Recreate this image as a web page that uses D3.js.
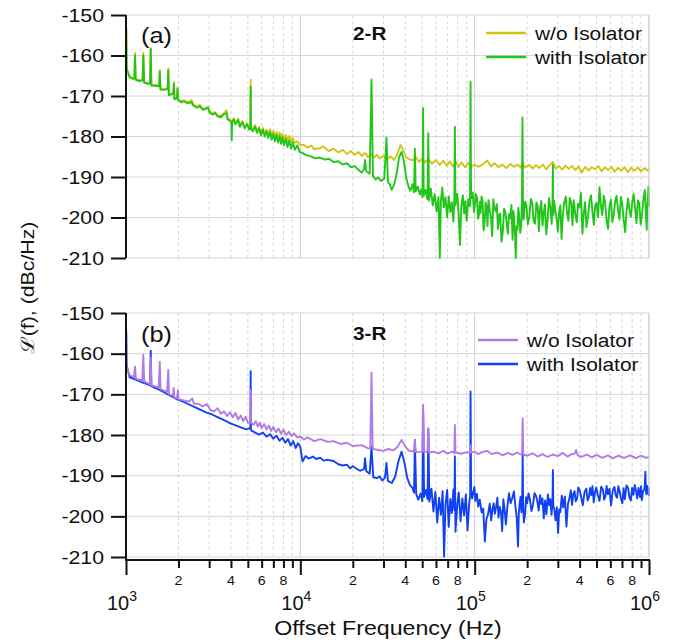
<!DOCTYPE html>
<html><head><meta charset="utf-8">
<script src="https://cdn.jsdelivr.net/npm/d3@7"></script>
<style>html,body{margin:0;padding:0;background:#fff;}svg{display:block;}</style>
</head><body>
<svg id="chart" width="688" height="643"></svg>
<script>
// ---------------- DATA ----------------
const yTicks = [-150,-160,-170,-180,-190,-200,-210];
const decadeTicks = [1e3,1e4,1e5,1e6];
const decadeExp = ["3","4","5","6"];
const minorLabels = [2,4,6,8];
const seriesNames = ["w/o Isolator","with Isolator"];
const panelTags = ["(a)","(b)"];
const panelTitles = ["2-R","3-R"];
const xTitle = "Offset Frequency (Hz)";
const yTitle = "\u2112(f), (dBc/Hz)";

// panel (a) 2-R, without isolator  [frequency Hz, dBc/Hz]
const topNoIso = [
[1000,-164.8],[1003,-153.5],[1009,-163.2],[1050,-165.2],[1100,-165.6],[1118,-165.4],[1126,-159.4],[1136,-165.8],[1190,-166.1],[1245,-166],[1257,-159.4],[1270,-166.5],[1330,-166.9],[1375,-166.7],[1386,-158.2],[1398,-167.2],[1470,-167.3],[1550,-167.4],[1562,-163.6],[1576,-168.2],[1650,-168.3],[1735,-168.1],[1748,-163.2],[1762,-169.6],[1830,-169.4],[1870,-169],[1882,-166.5],[1895,-170.6],[1960,-170.4],[1975,-167.8],[1990,-170.8],[2080,-171.4],[2150,-171],[2250,-171.6],[2380,-171],[2420,-172],[2550,-172.6],[2650,-172.2],[2750,-173.1],[2850,-173],[2960,-172.6],[3020,-173.9],[3150,-174.3],[3250,-174],[3350,-174.8],[3500,-175],[3600,-174.4],[3780,-173.5],[3820,-175.4],[3950,-175.9],[4040,-176.4],[4150,-175.5],[4250,-176.7],[4400,-175.6],[4500,-177.3],[4650,-176.2],[4800,-177.8],[4950,-176.7],[5100,-178],[5170,-177.6],[5190,-166],[5210,-177.8],[5350,-178.4],[5500,-177.2],[5650,-178.8],[5800,-177.6],[5950,-179.3],[6100,-177.9],[6250,-179.5],[6400,-178.3],[6550,-179.8],[6700,-178.2],[6850,-180.1],[7000,-178.6],[7150,-180.3],[7300,-178.8],[7450,-180.5],[7600,-179],[7750,-180.6],[7900,-179.3],[8050,-180.9],[8250,-179.6],[8450,-181.1],[8650,-179.9],[8850,-181.3],[9050,-180.4],[9300,-181.5],[9600,-181.2],[9900,-182],[10500,-182.1],[11000,-182.8],[11500,-182.2],[12000,-183.1],[13000,-182.9],[13500,-182.4],[14500,-183.6],[15500,-183],[16500,-183.9],[17500,-183.3],[18500,-184.3],[19500,-183.6],[20500,-184.5],[21500,-183.8],[22500,-184.8],[23500,-184.1],[24500,-185.1],[25500,-184.3],[26500,-185.2],[27500,-184.5],[28500,-185.4],[30000,-184.8],[31500,-185.6],[33000,-184.9],[34500,-185.8],[36000,-184.4],[37500,-182.1],[39000,-183.4],[40500,-185.2],[42000,-185.6],[44000,-185.9],[46000,-185.1],[48000,-186.3],[50000,-185.4],[52000,-186.5],[54000,-185.5],[57000,-186.7],[60000,-185.8],[63000,-187],[66000,-186],[69000,-187.2],[72000,-186.2],[75000,-187.4],[78000,-186.3],[81000,-187.5],[84000,-186.4],[88000,-187.6],[92000,-186.5],[96000,-187.4],[100000,-186.9],[105000,-187.5],[112000,-186.8],[118000,-185.9],[124000,-187.4],[130000,-186.6],[137000,-187.6],[144000,-186.9],[152000,-187.8],[160000,-186.8],[168000,-187.5],[176000,-186.9],[184000,-187.7],[188000,-186.3],[193000,-187.6],[206000,-187],[215000,-187.9],[225000,-187.1],[235000,-187.8],[246000,-186.9],[257000,-188.1],[268000,-187.2],[281000,-186.3],[292000,-187.9],[305000,-187.3],[318000,-188.2],[332000,-187.2],[347000,-188],[362000,-187.3],[378000,-188.3],[395000,-187.4],[412000,-188.9],[430000,-187.5],[450000,-188.4],[470000,-187.6],[490000,-188.1],[512000,-187.3],[535000,-188.6],[558000,-187.6],[583000,-188.3],[609000,-187.5],[636000,-188.7],[664000,-187.7],[694000,-188.4],[725000,-187.6],[757000,-188.8],[790000,-187.7],[825000,-188.5],[862000,-187.6],[900000,-188.6],[940000,-187.8],[980000,-188.4],[1000000,-187.9]
];

// panel (a) 2-R, with isolator
const topIso = [
[1000,-165],[1003,-153.3],[1009,-163.4],[1050,-165.4],[1100,-165.8],[1118,-165.6],[1126,-160],[1136,-166],[1190,-166.3],[1245,-166.2],[1257,-160],[1270,-166.7],[1330,-167],[1375,-166.9],[1386,-158.4],[1398,-167.4],[1470,-167.5],[1550,-167.6],[1562,-164],[1576,-168.4],[1650,-168.5],[1735,-168.3],[1748,-163.6],[1762,-169.8],[1830,-169.6],[1870,-169.2],[1882,-167],[1895,-170.8],[1960,-170.6],[1975,-168.2],[1990,-171],[2080,-171.6],[2150,-171.3],[2250,-171.8],[2380,-171.5],[2420,-172.3],[2550,-172.9],[2650,-172.5],[2750,-173.4],[2850,-173.2],[2960,-173],[3020,-174.2],[3150,-174.6],[3250,-174.2],[3350,-175],[3500,-175.3],[3600,-174.7],[3780,-174.2],[3820,-175.7],[3950,-176.1],[4020,-176.5],[4040,-180.9],[4060,-176.6],[4150,-175.8],[4250,-177],[4400,-175.9],[4500,-177.6],[4650,-176.5],[4800,-178],[4950,-177],[5100,-178.3],[5170,-177.9],[5190,-167.7],[5210,-178.1],[5350,-178.7],[5500,-177.5],[5650,-179.1],[5800,-178],[5950,-179.7],[6100,-178.3],[6250,-180],[6400,-178.7],[6550,-180.4],[6700,-178.8],[6850,-180.8],[7000,-179.3],[7150,-181.2],[7300,-179.6],[7450,-181.5],[7600,-179.9],[7750,-181.8],[7900,-180.2],[8050,-182.2],[8250,-180.6],[8450,-182.6],[8650,-181],[8850,-183],[9050,-181.4],[9300,-183.3],[9600,-182.2],[9900,-183.8],[10200,-184],[10800,-184.6],[11500,-184.9],[12200,-185.4],[13000,-185.2],[13800,-185.7],[14600,-185.5],[15500,-186.3],[16500,-186.1],[17500,-186.9],[18500,-186.6],[19500,-187.6],[20500,-187.3],[21500,-188.2],[22500,-188.9],[23200,-188.1],[23500,-185.8],[23900,-188.6],[25000,-189.2],[25600,-165.9],[26100,-189.8],[27000,-190.6],[28000,-190.1],[29000,-191],[30300,-190.4],[31200,-180.3],[31800,-191.2],[32600,-191.8],[33400,-193.2],[34500,-191.9],[35600,-189.4],[36800,-185.2],[38100,-183.8],[39300,-186.2],[40600,-190.4],[41800,-192.5],[42800,-193.4],[44000,-191.8],[44900,-193.8],[45400,-183],[45900,-193.5],[47200,-192.4],[48500,-194.3],[49600,-193],[50200,-195],[50600,-173],[51000,-194.6],[52200,-193.2],[53600,-195.5],[54200,-179.2],[54700,-195.8],[56000,-192.8],[57500,-197],[59000,-194.2],[60500,-198.5],[62000,-195],[63100,-210],[64000,-196],[65200,-192.6],[66500,-197.5],[68000,-195],[69500,-200],[71000,-194.8],[72500,-198.6],[74000,-196.2],[75500,-201],[76500,-195.4],[77000,-177.6],[77600,-197],[79500,-194.2],[81000,-199.5],[82400,-206.8],[83800,-197.2],[85500,-194.5],[87000,-199],[88500,-196],[90000,-200.8],[92000,-195.5],[94000,-197.2],[94700,-166.5],[95400,-195.3],
[97500,-193.8],[99000,-198.6],[100000,-197.5],[101500,-194.2],[103000,-195],[104500,-200.3],[106000,-199.2],[107000,-196.1],[108000,-198.9],[109500,-194.8],[111000,-196],[112500,-203.2],[114000,-201.5],[115500,-196.3],[117000,-197.4],[118500,-202.1],[120000,-195.7],[122000,-198.2],[124000,-199.8],[126000,-204.6],[128000,-195.5],[130000,-197.9],[132000,-198.5],[134000,-196.7],[136000,-202.8],[138000,-199.6],[140000,-199],[142500,-206],[145000,-203.5],[147500,-197.8],[150000,-198.6],[152500,-201.3],[155000,-204],[157500,-199.1],[160000,-200.2],[162500,-196.9],[165000,-205.5],[167000,-198.4],[169000,-201.4],[170500,-204.5],[172000,-210],[174000,-202.2],[176000,-203],[178000,-197.6],[180000,-199.5],[182500,-203.8],[185000,-201.8],[186500,-198.5],[188000,-175.3],[189500,-199.2],[191000,-200.5],[194500,-196.1],[198000,-197],[202000,-201.7],[206000,-199.8],[210000,-195.4],[214000,-196.5],[218000,-200.9],[222000,-201.5],[226000,-196.3],[230000,-197.2],[233500,-203.4],[237000,-198.1],[241000,-195.9],[245000,-202],[249000,-198.8],[253000,-196.8],[257500,-204.2],[262000,-200.6],[267000,-195.2],[272000,-197.5],[276500,-201.6],[279500,-197],[281000,-187],[282500,-199.4],[286000,-195.9],[290000,-198.3],[295000,-200.2],[300000,-203.5],[305000,-198.7],[310000,-197],[315000,-205.3],[320000,-199.6],[326000,-196.4],[333000,-194.8],[339000,-199.1],[345000,-200.8],[351000,-195.2],[358000,-196.3],[364000,-201.9],[370000,-195.7],[377000,-198.9],[385000,-201.2],[392000,-196.6],[400000,-197.4],[407000,-193.9],[415000,-204],[422000,-199.3],[430000,-196.2],[438000,-202.4],[447000,-199.6],[456000,-195.8],[465000,-194.5],[474000,-198.7],[483000,-201.8],[491000,-197.2],[500000,-196.4],[510000,-199.9],[520000,-192.5],[530000,-197.1],[540000,-199.4],[550000,-194.6],[560000,-196.2],[571000,-200.8],[582000,-202.8],[593000,-197.3],[605000,-195.6],[616000,-201.1],[628000,-199.3],[640000,-195.9],[652000,-194.7],[664000,-198.2],[677000,-200.5],[690000,-194.9],[703000,-196.9],[716000,-200.7],[730000,-203.6],[744000,-198.4],[758000,-195.3],[772000,-197.9],[787000,-199.8],[802000,-196.1],[817000,-194.2],[832000,-197.6],[848000,-201.4],[864000,-195.8],[880000,-196.5],[896000,-201.7],[913000,-199.2],[930000,-195.1],[947000,-193.2],[958000,-198.4],[970000,-203],[978000,-197.1],[985000,-195.6],[993000,-192.4],[1000000,-197.3]
];

// panel (b) 3-R, without isolator
const botNoIso = [
[1000,-165],[1003,-155],[1009,-163.5],[1050,-165.3],[1110,-165.8],[1126,-163.2],[1140,-166.2],[1240,-166.6],[1257,-160.3],[1272,-166.9],[1370,-167.5],[1386,-161],[1400,-167.8],[1540,-168.3],[1562,-162],[1578,-168.7],[1720,-169.4],[1748,-164],[1765,-170],[1860,-170.3],[1876,-168.4],[1895,-170.8],[1960,-171],[1985,-169],[2000,-171.2],[2150,-171.5],[2300,-171.8],[2400,-171],[2450,-172.3],[2600,-172.3],[2750,-173],[2900,-172.4],[3050,-173.8],[3200,-174.2],[3350,-173.4],[3500,-174.8],[3650,-174.2],[3800,-175.3],[3950,-174.4],[4100,-175.6],[4250,-174.6],[4400,-176.2],[4550,-175.2],[4700,-176.6],[4850,-175.5],[5000,-177],[5170,-176.8],[5190,-169],[5210,-177],[5400,-177.5],[5550,-176.6],[5700,-177.9],[5850,-177],[6000,-178.3],[6200,-177.3],[6400,-178.6],[6600,-177.7],[6800,-179],[7000,-178],[7250,-179.3],[7500,-178.4],[7750,-179.7],[8000,-178.7],[8300,-180],[8600,-179.2],[8900,-180.3],[9200,-179.6],[9600,-180.6],[10000,-180.4],[10500,-181.1],[11000,-180.6],[12000,-181.5],[13000,-181],[14400,-181.7],[15500,-181.5],[17000,-182.2],[18500,-181.9],[20000,-182.7],[22500,-182.5],[24500,-183.3],[25200,-183.3],[25600,-164.7],[26000,-183.4],[28000,-183.7],[30000,-183.9],[32000,-183.4],[34000,-183.8],[36000,-183],[38100,-181.2],[40000,-182.8],[42000,-183.9],[44800,-184],[45400,-181.3],[46000,-184.2],[50000,-184.1],[50600,-172.6],[51300,-184.2],[53600,-184],[54200,-178.3],[54800,-184.3],[58000,-184.1],[62000,-184.5],[66000,-183.9],[70000,-184.6],[74000,-184.1],[76500,-184.4],[77000,-177.5],[77600,-184.3],[84000,-184.6],[90000,-184.2],[94000,-184.4],[94700,-182.5],[95400,-184.3],[100000,-184.1],[105000,-184.7],[110000,-184.2],[118000,-183.9],[125000,-184.7],[135000,-184.3],[145000,-185],[155000,-184.4],[165000,-184.9],[175000,-184.3],[184000,-184.8],[187000,-184.6],[188500,-175.9],[190000,-184.8],[200000,-185.1],[215000,-184.5],[230000,-185.3],[245000,-184.7],[262000,-185.4],[280000,-184.8],[300000,-185.2],[320000,-184.4],[340000,-185.3],[360000,-184.7],[374000,-184.6],[382000,-183.7],[390000,-185],[410000,-185.4],[440000,-184.8],[470000,-185.5],[500000,-184.9],[540000,-185.6],[580000,-185],[620000,-185.7],[670000,-185.1],[720000,-185.6],[780000,-185],[840000,-185.7],[900000,-185.1],[960000,-185.6],[1000000,-185.3]
];

// panel (b) 3-R, with isolator
const botIso = [
[1000,-165.6],[1003,-154.2],[1009,-163],[1050,-165.8],[1126,-166.3],[1200,-166.8],[1260,-167.2],[1320,-167.5],[1375,-167.8],[1386,-159.3],[1398,-168],[1480,-168.5],[1560,-168.9],[1650,-169.5],[1750,-170.1],[1850,-170.6],[1950,-171.2],[2100,-171.7],[2300,-172.5],[2500,-173.2],[2700,-173.9],[2900,-174.5],[3100,-174.9],[3300,-175.5],[3500,-176],[3750,-176.6],[4000,-177.2],[4300,-177.7],[4600,-178.2],[4900,-178.6],[5170,-178.3],[5190,-164.3],[5210,-178.8],[5500,-179.4],[5800,-179.9],[6100,-179.4],[6400,-180.4],[6700,-179.8],[7000,-180.9],[7300,-180.2],[7600,-181.4],[7900,-180.7],[8200,-181.9],[8500,-181],[8800,-182.6],[9100,-181.5],[9400,-183.2],[9700,-182],[10000,-183],[10300,-186.5],[10700,-185.2],[11200,-185.8],[11800,-185.3],[12300,-185.9],[13000,-185.6],[13600,-186.3],[14400,-186.1],[15500,-186.4],[16500,-187.2],[17500,-187.5],[18500,-187.3],[19300,-188.2],[20000,-187.7],[21000,-188.3],[22000,-188.8],[23200,-188.4],[23500,-185.7],[23900,-188.9],[25000,-189.5],[25600,-182.8],[26200,-190.4],[27500,-190.6],[28500,-190.2],[29500,-191.2],[30600,-190.5],[31200,-186.9],[31800,-191.3],[33500,-191.8],[35000,-190.2],[36500,-186.5],[38100,-184.1],[39500,-186.7],[41000,-190.5],[42500,-192.3],[44000,-193],[44900,-194.2],[45400,-181.2],[46200,-194.5],[47500,-195.9],[49000,-194.4],[50100,-196.3],[50600,-174],[51300,-195.2],[52600,-193.5],[53700,-195.8],[54200,-178.5],[55000,-196.4],[56500,-193.2],[58000,-198.8],[59500,-194],[61000,-201.5],[62500,-195.4],[64000,-199.6],[65500,-193.8],[66800,-209.9],[68000,-197.2],[69500,-193.5],[71000,-202.6],[72500,-195.7],[74000,-199.2],[75500,-193.4],[76500,-198.5],[77000,-185.3],[77600,-203.8],[79500,-197.1],[81000,-194.1],[83000,-201.2],[85000,-195.6],[87000,-199.8],[89000,-194.6],[91000,-203.5],[93000,-196.8],[94200,-195],[94700,-169.3],
[95400,-193.5],[96800,-195.6],[98300,-194],[99600,-192.8],[101000,-196.2],[103000,-194.5],[104800,-197.6],[107000,-195.9],[109600,-199],[112000,-198.1],[114400,-206.2],[116800,-200.7],[119300,-199.5],[122000,-196.9],[124400,-201],[126500,-198.2],[128500,-196.8],[130500,-199.4],[132800,-197.6],[135000,-195.4],[137000,-200.3],[139300,-197.7],[141600,-199],[143800,-203.6],[146000,-195.8],[148500,-198.3],[151000,-202],[154200,-197.5],[157400,-194.3],[160800,-196.8],[164300,-195.5],[168000,-193.9],[171400,-197.6],[174300,-200.4],[177300,-207.4],[179200,-199.2],[181000,-197],[183300,-195.2],[185500,-199],[187300,-196],[188500,-184.5],[189800,-197.4],[191500,-201.5],[194600,-199.5],[197300,-195.3],[200000,-196.8],[203700,-194.4],[207500,-195.9],[211700,-198.7],[216000,-197.2],[220500,-194.3],[225000,-195],[229000,-196.4],[233000,-198.6],[237000,-194.8],[241000,-197],[245000,-195.6],[249000,-200.5],[253500,-196.1],[258000,-199.5],[263000,-194.6],[268000,-197.3],[272000,-195.8],[276000,-199.6],[279500,-196.4],[281000,-188.6],[282500,-197.5],[286000,-198.2],[291000,-201],[296000,-197.8],[301000,-204.1],[305500,-198.3],[310000,-199],[316000,-194.9],[322000,-197.8],[329000,-195.1],[336000,-202.5],[343000,-196.9],[350000,-195.5],[356000,-193.6],[362000,-197.2],[368000,-194.4],[374000,-193.8],[380000,-196.3],[387000,-195.6],[393000,-192.9],[400000,-193.5],[408000,-195.2],[417000,-197.3],[427000,-194],[437000,-193.2],[444000,-196.1],[452000,-195.4],[459000,-193],[467000,-194.8],[474000,-192.6],[482000,-196.6],[490000,-194.1],[498000,-192.9],[509000,-194.8],[520000,-196.2],[532000,-192.7],[544000,-193.4],[553000,-195.9],[562000,-195.1],[571000,-192.5],[581000,-194.6],[593000,-193.2],[606000,-197.3],[620000,-193.5],[634000,-192.8],[645000,-194.9],[656000,-195.4],[667000,-192.6],[679000,-193.9],[691000,-195.7],[703000,-196.8],[715000,-193.1],[727000,-195.8],[743000,-192.4],[760000,-193.1],[773000,-195.5],[787000,-196.1],[800000,-193],[814000,-194.7],[828000,-192.3],[842000,-193.6],[856000,-195.6],[871000,-193],[880000,-194.4],[890000,-195.3],[900000,-192.6],[910000,-196],[925000,-193.8],[940000,-193.4],[947000,-192.1],[953000,-189],[960000,-193.7],[966000,-194.6],[977000,-192.5],[987000,-194.3],[994000,-193.1],[1000000,-195]
];

const colors = { yellow:"#d3c315", green:"#22c61a", purple:"#b07be4", blue:"#1241f2" };

// ---------------- DRAW ----------------
const svg = d3.select("#chart");
const FONT = "'Liberation Sans', Arial, Helvetica, sans-serif";
const SX = 1.15;

const x = d3.scaleLog().domain([1e3,1e6]).range([126,649]);
const panels = [
  { y: d3.scaleLinear().domain([-210,-150]).range([258,15]), data:[topNoIso, topIso], cols:[colors.yellow, colors.green],
    tag:panelTags[0], title:panelTitles[0], legX:486, legY:[33,57], order:[0,1] },
  { y: d3.scaleLinear().domain([-210,-150]).range([557,313]), data:[botNoIso, botIso], cols:[colors.purple, colors.blue],
    tag:panelTags[1], title:panelTitles[1], legX:478, legY:[340,364], order:[1,0] }
];

function stext(g, px, py, str, size, opts={}) {
  return g.append("text")
    .attr("transform", `translate(${px},${py}) scale(${opts.sx||SX},1)`)
    .attr("font-family", FONT).attr("font-size", size)
    .attr("fill", opts.fill || "#111")
    .attr("text-anchor", opts.anchor || "start")
    .attr("font-weight", opts.weight || "normal")
    .text(str);
}

const minorVals = [];
for (const d of [1e3,1e4,1e5]) for (let k=2;k<=9;k++) minorVals.push(d*k);

panels.forEach((p, pi) => {
  const g = svg.append("g");
  const [y0, y1] = p.y.range();
  // grid
  g.selectAll(".hg").data(yTicks).join("line")
    .attr("x1", x.range()[0]).attr("x2", x.range()[1])
    .attr("y1", d=>p.y(d)).attr("y2", d=>p.y(d))
    .attr("stroke", "#d6d6d6").attr("stroke-width", 1);
  g.selectAll(".vm").data(minorVals).join("line")
    .attr("x1", d=>x(d)).attr("x2", d=>x(d)).attr("y1", y1).attr("y2", y0)
    .attr("stroke", "#c9c9c9").attr("stroke-width", 0.8).attr("stroke-dasharray", "3,3");
  g.selectAll(".vd").data(decadeTicks.slice(1)).join("line")
    .attr("x1", d=>x(d)).attr("x2", d=>x(d)).attr("y1", y1).attr("y2", y0)
    .attr("stroke", "#cdcdcd").attr("stroke-width", 1);

  // lines
  const line = d3.line().x(d=>x(d[0])).y(d=>p.y(d[1]));
  p.order.forEach(si => {
    g.append("path").datum(p.data[si])
      .attr("d", line).attr("fill","none")
      .attr("stroke", p.cols[si]).attr("stroke-width", 1.9)
      .attr("stroke-linejoin","round");
  });

  // y axis
  const yAxis = d3.axisLeft(p.y).tickValues(yTicks).tickSize(15).tickFormat("");
  const ya = g.append("g").attr("transform", `translate(${x.range()[0]},0)`).call(yAxis);
  ya.select(".domain").attr("stroke","#111").attr("stroke-width",2)
    .attr("d", `M0,${y1}V${pi===1 ? 560 : y0}`);
  ya.selectAll(".tick line").attr("stroke","#111").attr("stroke-width",2);
  yTicks.forEach(v => {
    stext(g, 104, p.y(v) + 6.5, String(v), 18.5, {anchor:"end"});
  });

  // labels
  stext(g, 141, pi===0 ? 42.5 : 342, p.tag, 22);
  stext(g, 353, pi===0 ? 39.5 : 340, p.title, 18, {weight:"bold"});

  // legend
  [0,1].forEach(i => {
    g.append("line").attr("x1", p.legX).attr("x2", p.legX+40)
      .attr("y1", p.legY[i]).attr("y2", p.legY[i])
      .attr("stroke", p.cols[i]).attr("stroke-width", 2.4);
    stext(g, p.legX+49, p.legY[i]+7, seriesNames[i], 19, {sx:1.1});
  });
});

// x axis (bottom)
const gx = svg.append("g").attr("transform","translate(0,560)");
const xAxisMinor = d3.axisBottom(x).tickValues(minorVals).tickSize(8).tickFormat("");
const xAxisMajor = d3.axisBottom(x).tickValues(decadeTicks).tickSize(15).tickFormat("");
const gm = gx.append("g").call(xAxisMinor);
gm.select(".domain").attr("stroke","#111").attr("stroke-width",2).attr("d", `M${x.range()[0]-1},0H${x.range()[1]+1}`);
gm.selectAll(".tick line").attr("stroke","#111").attr("stroke-width",2);
const gM = gx.append("g").call(xAxisMajor);
gM.select(".domain").remove();
gM.selectAll(".tick line").attr("stroke","#111").attr("stroke-width",2);

[1e3,1e4,1e5].forEach(d => minorLabels.forEach(k => {
  stext(svg, x(d*k), 585, String(k), 13.5, {anchor:"middle", sx:1.05});
}));
decadeTicks.forEach((d,i) => {
  const t = svg.append("text")
    .attr("transform", `translate(${x(d)-4},610)`)
    .attr("font-family", FONT).attr("font-size", 20).attr("fill","#111")
    .attr("text-anchor","middle");
  t.append("tspan").text("10");
  t.append("tspan").attr("font-size", 14).attr("dy", -9).text(decadeExp[i]);
});
stext(svg, 388, 635, xTitle, 20.5, {anchor:"middle", sx:1.13});

// y title
svg.append("text")
  .attr("transform", "translate(34,288) rotate(-90) scale(1.15,1)")
  .attr("font-family", FONT).attr("font-size", 18.5).attr("fill","#111")
  .attr("text-anchor","middle")
  .text(yTitle);

// frame right border
[[15,258],[313,557]].forEach(r => {
  svg.append("line").attr("x1", x.range()[1]).attr("x2", x.range()[1]).attr("y1", r[0]).attr("y2", r[1])
    .attr("stroke","#d3d3d3").attr("stroke-width",1);
});
</script>
</body></html>
